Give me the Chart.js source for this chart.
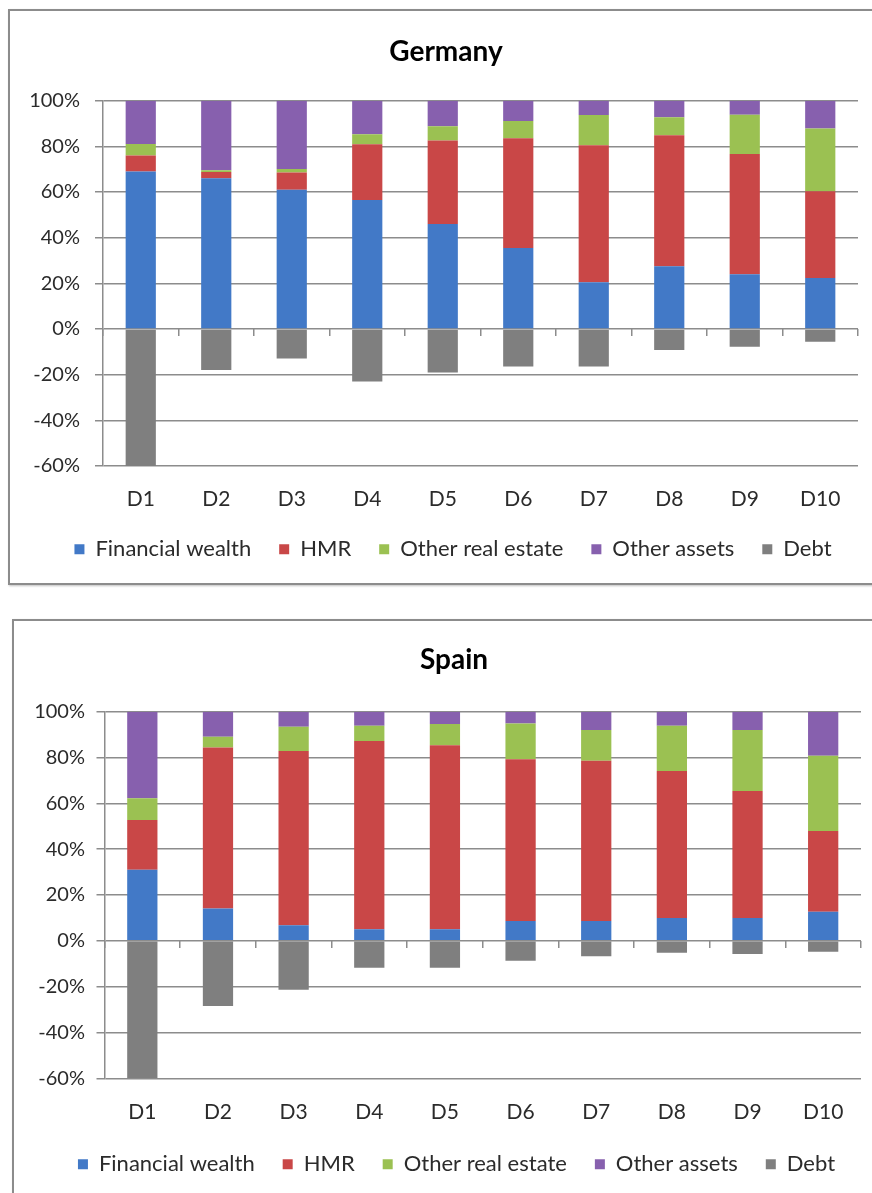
<!DOCTYPE html>
<html>
<head>
<meta charset="utf-8">
<title>Wealth composition by decile</title>
<script src="https://cdn.jsdelivr.net/npm/chart.js@4/dist/chart.umd.min.js"></script>
<style>
  html, body { margin: 0; padding: 0; background: #fff; overflow: hidden; }
  body { width: 872px; height: 1193px; position: relative; }
  .frame {
    position: absolute;
    box-sizing: border-box;
    border: 2px solid #8c8c8c;
    box-shadow: 1px 1px 2px rgba(0,0,0,0.25);
    background: #fff;
  }
  canvas { position: absolute; }
</style>
</head>
<body>
<div class="frame" style="left:8px; top:9px; width:870px; height:576px;"></div>
<div class="frame" style="left:12px; top:619px; width:870px; height:600px;"></div>
<canvas id="germany" width="858" height="570" style="left:11px; top:12px;"></canvas>
<canvas id="spain" width="855" height="575" style="left:15px; top:622px;"></canvas>
<script>
// Income deciles on the horizontal axis
const categories = ['D1', 'D2', 'D3', 'D4', 'D5', 'D6', 'D7', 'D8', 'D9', 'D10'];

// Shares of gross wealth (%), debt shown as a negative share
const seriesNames = ['Financial wealth', 'HMR', 'Other real estate', 'Other assets', 'Debt'];
const seriesColors = ['#4279c7', '#c94747', '#9bc152', '#8760ae', '#7f7f7f'];

// Germany
const deFinancial   = [69, 66, 61, 56.5, 46, 35.5, 20.5, 27.5, 24, 22.3];
const deHMR         = [7, 2.8, 7.6, 24.4, 36.6, 48.1, 60, 57.4, 52.7, 38];
const deOtherRE     = [5, 0.7, 1.5, 4.4, 6.2, 7.5, 13.2, 7.8, 17.1, 27.5];
const deOtherAssets = [19, 30.5, 29.9, 14.7, 11.2, 8.9, 6.3, 7.3, 6.2, 12.2];
const deDebt        = [-60, -18, -12.9, -23, -19, -16.4, -16.4, -9.2, -7.8, -5.6];

// Spain
const esFinancial   = [31, 14.1, 6.8, 5.1, 5.1, 8.6, 8.6, 10, 10, 12.7];
const esHMR         = [21.7, 70.3, 76, 82.1, 80.3, 70.6, 70, 64.1, 55.4, 35.2];
const esOtherRE     = [9.5, 4.7, 10.6, 6.7, 9.2, 15.7, 13.4, 19.8, 26.6, 32.9];
const esOtherAssets = [37.8, 10.9, 6.6, 6.1, 5.4, 5.1, 8, 6.1, 8, 19.2];
const esDebt        = [-60, -28.4, -21.3, -11.8, -11.8, -8.7, -6.7, -5.2, -5.8, -4.8];

// Value-axis tick marks
const tickValues = [-60, -40, -20, 0, 20, 40, 60, 80, 100];

const FONT = 'Lato, "Open Sans", sans-serif';
const GRID = '#8c8c8c';
const TEXT = '#2b2b2b';

// Nudges the title and legend sideways after layout, so they are centred
// over the plotting area rather than over the whole canvas.
const shiftBoxes = {
  id: 'shiftBoxes',
  afterLayout(chart, args, opts) {
    const moves = [[chart.titleBlock, opts.title || 0], [chart.legend, opts.legend || 0]];
    for (const [box, dx] of moves) {
      if (box && dx) { box.left += dx; box.right += dx; }
    }
  }
};

function buildChart(id, titleText, values, g) {
  return new Chart(document.getElementById(id), {
    type: 'bar',
    plugins: [shiftBoxes],
    data: {
      labels: categories,
      datasets: seriesNames.map((name, i) => ({
        label: name,
        data: values[i],
        backgroundColor: seriesColors[i],
        borderWidth: 0,
        barPercentage: 0.4,
        categoryPercentage: 1,
        xAxisID: 'x',
        yAxisID: 'y',
        stack: 'wealth'
      }))
    },
    options: {
      responsive: false,
      animation: false,
      layout: { padding: { left: 0, right: g.padR, top: 0, bottom: g.padB } },
      plugins: {
        shiftBoxes: { title: g.titleDx, legend: g.legendDx },
        title: {
          display: true,
          text: titleText,
          color: '#000',
          font: { family: FONT, size: 28, weight: 'bold' },
          padding: { top: g.titleTop, bottom: g.titleBottom }
        },
        legend: {
          position: 'bottom',
          maxHeight: 50,
          labels: {
            boxWidth: 10,
            boxHeight: 10,
            padding: 28,
            color: TEXT,
            font: { family: FONT, size: 22 }
          }
        },
        tooltip: { enabled: false }
      },
      scales: {
        x: {
          stacked: true,
          grid: { display: false, drawTicks: false },
          border: { display: false },
          ticks: { padding: g.xPad, color: TEXT, font: { family: FONT, size: 21 } },
          afterFit: s => { s.height = g.xHeight; }
        },
        // category axis line sitting on the zero value, with tick marks between deciles
        xZero: {
          axis: 'x',
          type: 'category',
          labels: categories,
          offset: true,
          position: { y: 0 },
          grid: { display: true, drawOnChartArea: false, offset: true, tickLength: 7, color: GRID, lineWidth: 1.5 },
          border: { display: false },
          ticks: { display: false }
        },
        y: {
          stacked: true,
          min: -60,
          max: 100,
          afterBuildTicks: s => { s.ticks = tickValues.map(v => ({ value: v })); },
          ticks: {
            callback: v => v + '%',
            padding: g.yPad,
            color: TEXT,
            font: { family: FONT, size: 20 }
          },
          grid: { color: GRID, lineWidth: 1.5, tickLength: 8 },
          border: { color: GRID, width: 1.5 },
          afterFit: s => { s.width = g.yWidth; }
        }
      }
    }
  });
}

buildChart('germany', 'Germany',
  [deFinancial, deHMR, deOtherRE, deOtherAssets, deDebt],
  { padR: 11, padB: 21.7, titleTop: 23.2, titleBottom: 31.9, xHeight: 44.3, xPad: 20.3,
    yWidth: 92, yPad: 15, titleDx: 11.5, legendDx: 18.5 });

buildChart('spain', 'Spain',
  [esFinancial, esHMR, esOtherRE, esOtherAssets, esDebt],
  { padR: 9, padB: 21.7, titleTop: 21.2, titleBottom: 34.9, xHeight: 47, xPad: 21.4,
    yWidth: 89.5, yPad: 11.5, titleDx: 16, legendDx: 18.5 });
</script>
</body>
</html>
